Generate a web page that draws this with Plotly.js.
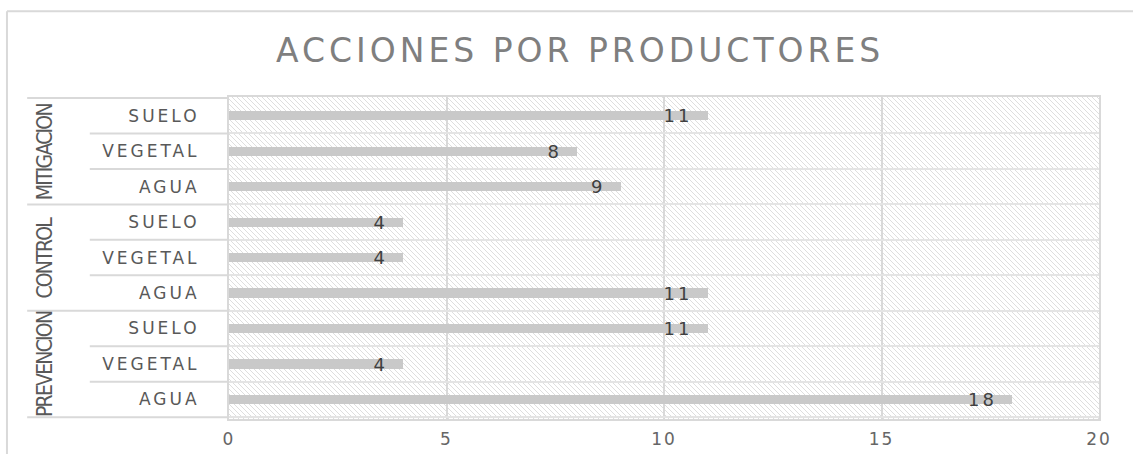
<!DOCTYPE html>
<html>
<head>
<meta charset="utf-8">
<script src="https://cdn.plot.ly/plotly-3.0.1.min.js"></script>
<style>
  html, body { margin: 0; padding: 0; background: #ffffff; }
  #chart { width: 1133px; height: 454px; }
  .gtitle { letter-spacing: 4px; }
  .ytick text { letter-spacing: 3px; }
  .xtick text { letter-spacing: 2px; }
  text.bartext { letter-spacing: 3px; }
  .annotation-text { letter-spacing: -1.8px; }
</style>
</head>
<body>
<div id="chart"></div>
<script>
// ---- data (bottom to top) ----
const groups = ['PREVENCION', 'CONTROL', 'MITIGACION'];
const subcats = ['AGUA', 'VEGETAL', 'SUELO'];
const prevencion = [18, 4, 11];
const control = [11, 4, 4];
const mitigacion = [9, 8, 11];
const titleText = 'ACCIONES POR PRODUCTORES';
const xTickVals = [0, 5, 10, 15, 20];

const seriesByGroup = [prevencion, control, mitigacion];
const keys = [], labels = [], values = [];
groups.forEach(function (g, gi) {
  subcats.forEach(function (s, si) {
    keys.push(g + ' ' + s);
    labels.push(s);
    values.push(seriesByGroup[gi][si]);
  });
});

const trace = {
  type: 'bar',
  orientation: 'h',
  y: keys,
  x: values,
  width: 0.26,
  marker: { color: '#c9c9c9', line: { width: 0 } },
  texttemplate: '%{x}\u2002',
  textposition: 'inside',
  insidetextanchor: 'end',
  textangle: 0,
  constraintext: 'none',
  textfont: { family: 'DejaVu Sans', size: 18, color: '#404040' },
  hoverinfo: 'none'
};

// dividers in the label area
const shapes = [];
const L = '#d9d9d9';
for (let i = 0; i <= keys.length; i++) {
  const b = i - 0.5;
  const outer = (i % 3 === 0);
  shapes.push({
    type: 'line', xref: 'paper', yref: 'y',
    x0: outer ? -0.232 : -0.16, x1: 0, y0: b, y1: b,
    line: { color: L, width: 2 }, layer: 'below'
  });
}
// chart border (top and left)
shapes.push({ type: 'line', xref: 'paper', yref: 'paper', x0: -0.2552, x1: 1.05, y0: 1.266, y1: 1.266, line: { color: L, width: 2 } });
shapes.push({ type: 'line', xref: 'paper', yref: 'paper', x0: -0.2552, x1: -0.2552, y0: 1.266, y1: -0.12, line: { color: L, width: 2 } });

const annotations = groups.map(function (g) {
  return {
    xref: 'paper', yref: 'y', x: -0.2115, y: g + ' ' + subcats[1],
    text: g, showarrow: false, textangle: -90,
    xanchor: 'center', yanchor: 'middle',
    font: { family: 'Liberation Sans Narrow, DejaVu Sans Condensed, sans-serif', size: 21, color: '#595959' }
  };
});

const layout = {
  width: 1133, height: 454,
  margin: { l: 229, r: 34, t: 97, b: 35 },
  paper_bgcolor: '#ffffff',
  plot_bgcolor: '#fefefe',
  showlegend: false,
  bargap: 0,
  title: {
    text: titleText,
    x: 0.512, xref: 'container', xanchor: 'center',
    y: 0.888, yref: 'container', yanchor: 'middle',
    font: { family: 'DejaVu Sans', size: 33, color: '#7f7f7f' }
  },
  xaxis: {
    range: [0, 20],
    tickvals: xTickVals,
    ticktext: xTickVals.map(String),
    showgrid: true, gridcolor: L, gridwidth: 2,
    zeroline: false,
    showline: true, linecolor: L, linewidth: 2, mirror: true,
    ticks: 'outside', ticklen: 4, tickcolor: 'rgba(0,0,0,0)',
    tickfont: { family: 'DejaVu Sans', size: 17, color: '#666666' },
    fixedrange: true
  },
  yaxis: {
    type: 'category',
    categoryorder: 'array',
    categoryarray: keys,
    tickvals: keys,
    ticktext: labels,
    tickson: 'boundaries',
    showgrid: true, gridcolor: '#e4e4e4', gridwidth: 2,
    showline: true, linecolor: L, linewidth: 2, mirror: true,
    ticks: '', ticklabelstandoff: 24,
    tickfont: { family: 'DejaVu Sans', size: 17, color: '#595959' },
    fixedrange: true
  },
  shapes: shapes,
  annotations: annotations
};

const gd = document.getElementById('chart');
Plotly.newPlot(gd, [trace], layout, { staticPlot: true, displayModeBar: false }).then(function () {
  const ns = 'http://www.w3.org/2000/svg';
  const svg = gd.querySelector('svg.main-svg');
  let defs = svg.querySelector('defs');
  if (!defs) { defs = document.createElementNS(ns, 'defs'); svg.insertBefore(defs, svg.firstChild); }
  const pat = document.createElementNS(ns, 'pattern');
  pat.setAttribute('id', 'hatchbg');
  pat.setAttribute('patternUnits', 'userSpaceOnUse');
  pat.setAttribute('width', '5');
  pat.setAttribute('height', '5');
  const r = document.createElementNS(ns, 'rect');
  r.setAttribute('width', '5'); r.setAttribute('height', '5'); r.setAttribute('fill', '#ffffff');
  pat.appendChild(r);
  [['0', '0', '5', '5'], ['-1', '4', '1', '6'], ['4', '-1', '6', '1']].forEach(function (c) {
    const ln = document.createElementNS(ns, 'line');
    ln.setAttribute('x1', c[0]); ln.setAttribute('y1', c[1]);
    ln.setAttribute('x2', c[2]); ln.setAttribute('y2', c[3]);
    ln.setAttribute('stroke', '#dedede');
    ln.setAttribute('stroke-width', '1');
    pat.appendChild(ln);
  });
  defs.appendChild(pat);
  gd.querySelectorAll('rect.bg').forEach(function (bg) {
    if (bg.closest('.annotation') || bg.closest('.legend')) return;
    bg.style.fill = 'url(#hatchbg)';
    bg.style.fillOpacity = '1';
  });
});
</script>
</body>
</html>
